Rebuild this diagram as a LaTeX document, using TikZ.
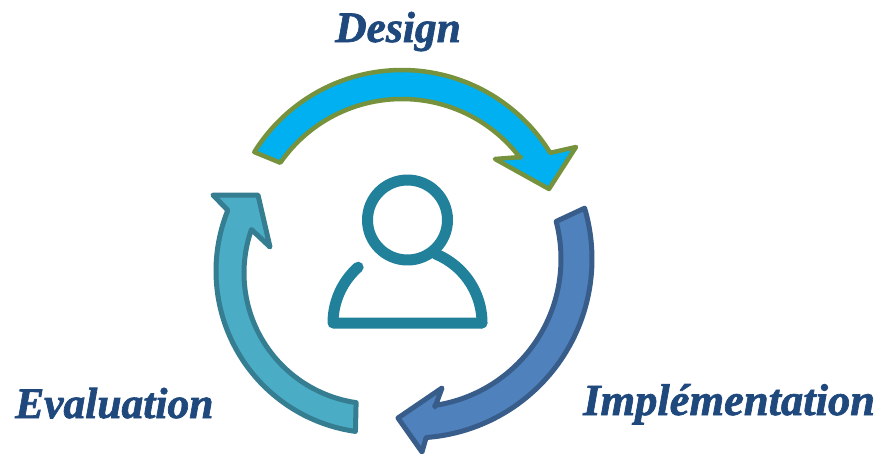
\documentclass[tikz,border=0pt]{standalone}
\usepackage{fontspec}
\setmainfont{Liberation Serif}[BoldItalicFeatures={FakeBold=1.6}]
\tikzset{
  loopb/.style={line join=round,line cap=round,line width=#1},
  label/.style={font=\fontsize{#1}{48}\selectfont\bfseries\itshape,text=labelblue,inner sep=0pt,anchor=base west},
  person/.style={draw=personteal,line width=11pt,line join=round,line cap=round},
  arcs/.style={domain=#1,samples=48,smooth}
}
\definecolor{labelblue}{HTML}{1F497D}
\definecolor{personteal}{HTML}{21809A}
\definecolor{dfill}{HTML}{00B0F0}
\definecolor{dline}{HTML}{76923C}
\definecolor{ifill}{HTML}{4F81BD}
\definecolor{iline}{HTML}{385D8A}
\definecolor{efill}{HTML}{4BACC6}
\definecolor{eline}{HTML}{357D91}
\begin{document}
\begin{tikzpicture}[x=1pt,y=-1pt]
\useasboundingbox (0,0) rectangle (879,453);
% Design arrow
\draw[loopb=4.5pt,draw=dline,fill=dfill]
  plot[arcs=148.1:31.6] ({402+174*cos(\x)},{244-174*sin(\x)}) -- (576,147) -- (549,189) -- (495,159) -- (521,157)
  -- plot[arcs=37.1:145.3] ({402+148*cos(\x)},{247-148*sin(\x)}) -- cycle;
% Implementation arrow
\draw[loopb=5pt,draw=iline,fill=ifill]
  plot[arcs=16.5:-85.8] ({413+179*cos(\x)},{259-179*sin(\x)}) -- (422,452) -- (398,418) -- (442,388) -- (435,407)
  -- plot[arcs=-81.5:14.7] ({413+148*cos(\x)},{259-148*sin(\x)}) -- cycle;
% Evaluation arrow
\draw[loopb=5pt,draw=eline,fill=efill]
  plot[arcs=262:158] ({378+162*cos(\x)},{271-162*sin(\x)}) -- (213,195) -- (258,195) -- (270,247) -- (252,230)
  -- plot[arcs=160.7:261.7] ({375+131*cos(\x)},{273-131*sin(\x)}) -- cycle;
% Person
\draw[person] (407.5,220) circle[radius=40];
\draw[person] plot[arcs=131.5:180] ({407.5+74.5*cos(\x)},{323-74.5*sin(\x)}) -- (482,323);
\draw[person] plot[arcs=68:0] ({407.5+74.5*cos(\x)},{323-74.5*sin(\x)});
% Labels
\node[label=43.5] (design) at (335,42) {Design};
\node[label=44.5] (impl) at (583,415) {Implémentation};
\node[label=43.5] (eval) at (15,418) {Evaluation};
\end{tikzpicture}
\end{document}
